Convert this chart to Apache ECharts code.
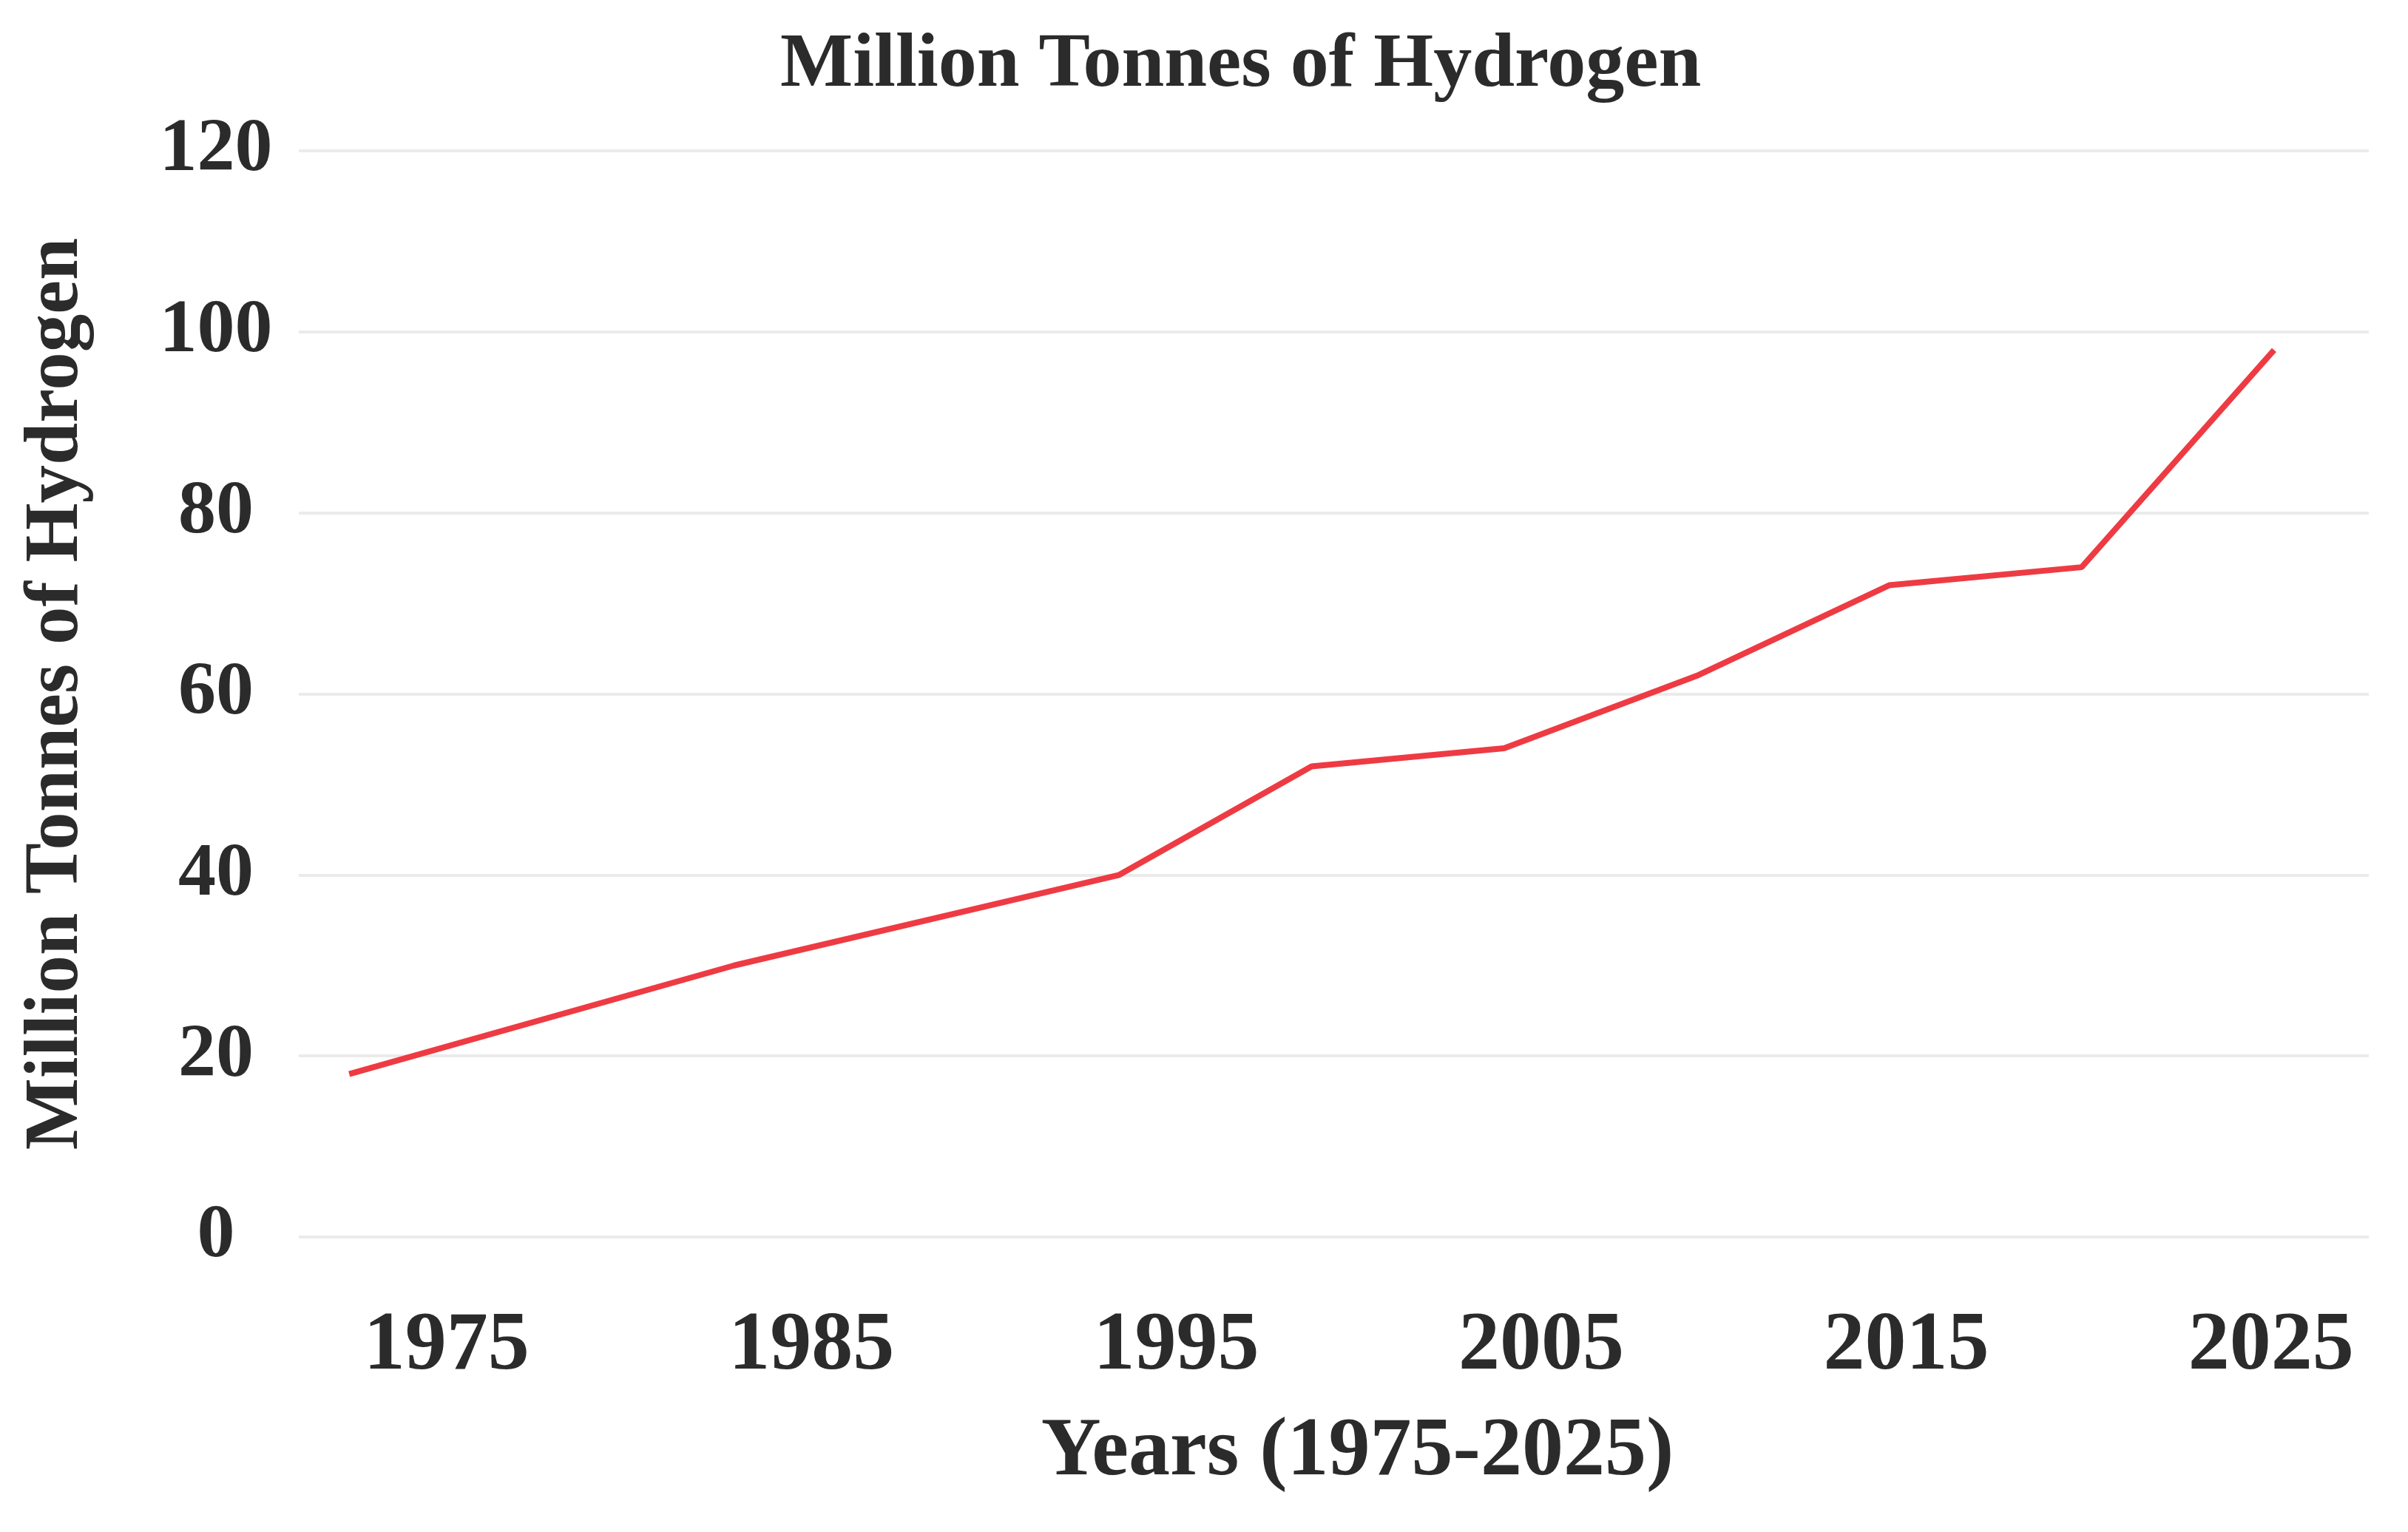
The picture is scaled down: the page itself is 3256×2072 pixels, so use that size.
<!DOCTYPE html>
<html>
<head>
<meta charset="utf-8">
<script src="https://cdn.jsdelivr.net/npm/echarts@6/dist/echarts.min.js"></script>
<style>
html,body{margin:0;padding:0;background:#ffffff;}
#chart{width:3256px;height:2072px;}
</style>
</head>
<body>
<div id="chart"></div>
<script>
const years = [1975, 1985, 1995, 2000, 2005, 2010, 2015, 2020, 2025];
const hydrogenMt = [18, 30, 40, 52, 54, 62, 72, 74, 98];
const xTickLabels = [1975, 1985, 1995, 2005, 2015, 2025];
const yTicks = [0, 20, 40, 60, 80, 100, 120];

const titleText = 'Million Tonnes of Hydrogen';
const yName = 'Million Tonnes of Hydrogen';
const xName = 'Years (1975-2025)';

const FONT = '"Liberation Serif", "Times New Roman", serif';
const TEXT = '#2b2b2b';

const chart = echarts.init(document.getElementById('chart'), null, {renderer: 'canvas'});
chart.setOption({
  backgroundColor: '#ffffff',
  animation: false,
  title: {
    text: titleText,
    left: 1050,
    top: 32,
    textStyle: {fontFamily: FONT, fontWeight: 'bold', fontSize: 104, color: TEXT}
  },
  grid: {left: 404, right: 53, top: 204, bottom: 399, containLabel: false},
  xAxis: [
    {
      type: 'value',
      min: 1973.69,
      max: 2027.46,
      axisLine: {show: false},
      axisTick: {show: false},
      axisLabel: {show: false},
      splitLine: {show: false}
    },
    {
      type: 'value',
      position: 'bottom',
      min: 1970.95,
      max: 2027.68,
      axisLine: {show: false},
      axisTick: {show: false},
      splitLine: {show: false},
      axisLabel: {
        customValues: xTickLabels,
        formatter: v => String(v),
        fontFamily: FONT, fontWeight: 'bold', fontSize: 112, color: TEXT,
        margin: 93
      },
      name: xName,
      nameLocation: 'middle',
      nameGap: 236,
      nameTextStyle: {fontFamily: FONT, fontWeight: 'bold', fontSize: 112, color: TEXT, padding: [0, 0, 0, 64]}
    }
  ],
  yAxis: {
    type: 'value',
    min: yTicks[0],
    max: yTicks[yTicks.length - 1],
    interval: 20,
    axisLine: {show: false},
    axisTick: {show: false},
    splitLine: {show: true, lineStyle: {color: '#ebebeb', width: 4}},
    axisLabel: {
      fontFamily: FONT, fontWeight: 'bold', fontSize: 102, color: TEXT,
      align: 'center',
      margin: 112,
      formatter: v => String(v)
    },
    name: yName,
    nameLocation: 'middle',
    nameGap: 275,
    nameTextStyle: {fontFamily: FONT, fontWeight: 'bold', fontSize: 103, color: TEXT}
  },
  series: [{
    type: 'line',
    xAxisIndex: 0,
    data: years.map((y, i) => [y, hydrogenMt[i]]),
    symbol: 'none',
    lineStyle: {color: '#ee3b43', width: 8},
    itemStyle: {color: '#ee3b43'}
  }]
});
</script>
</body>
</html>
